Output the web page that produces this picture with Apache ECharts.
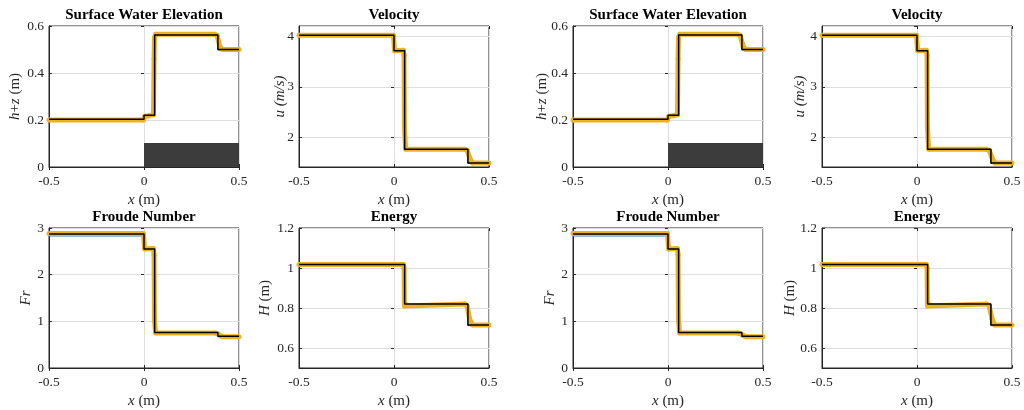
<!DOCTYPE html>
<html>
<head>
<meta charset="utf-8">
<script src="https://cdn.jsdelivr.net/npm/echarts@6/dist/echarts.min.js"></script>
<style>
  html, body { margin: 0; padding: 0; background: #fff; }
  #chart { width: 1024px; height: 410px; }
</style>
</head>
<body>
<div id="chart"></div>
<script>
// exact (reference) solution, step profile
const exactX = [-0.5, 0, 0, 0.056, 0.056, 0.389, 0.389, 0.5]
const exactElev = [0.203, 0.203, 0.22, 0.22, 0.562, 0.562, 0.5, 0.5]
const exactVel = [4.02, 4.02, 3.71, 3.71, 1.77, 1.77, 1.5, 1.5]
const exactFr = [2.87, 2.87, 2.55, 2.55, 0.76, 0.76, 0.68, 0.68]
const exactEn = [1.018, 1.018, 1.018, 1.018, 0.82, 0.82, 0.715, 0.715]

// second numerical run (blue), mostly hidden under the orange one
const blueElev = [0.198, 0.198, 0.215, 0.215, 0.56, 0.56, 0.498, 0.498]
const blueVel = [4.0, 4.0, 3.7, 3.7, 1.76, 1.76, 1.49, 1.49]
const blueFr = [2.83, 2.83, 2.54, 2.54, 0.75, 0.75, 0.67, 0.67]
const blueEn = [1.012, 1.012, 1.012, 1.012, 0.815, 0.815, 0.712, 0.712]

// numerical scheme (orange)
const schemeXLeft = [-0.5, -0.003, 0.003, 0.05, 0.053, 0.055, 0.061, 0.372, 0.385, 0.398, 0.413, 0.5]
const schemeXRight = [-0.5, -0.003, 0.003, 0.05, 0.053, 0.055, 0.061, 0.365, 0.38, 0.395, 0.41, 0.5]
const schemeElev = [0.2, 0.2, 0.215, 0.222, 0.46, 0.55, 0.565, 0.565, 0.56, 0.515, 0.5, 0.5]
const schemeVel = [4.02, 4.02, 3.71, 3.72, 3.62, 2.2, 1.77, 1.77, 1.75, 1.6, 1.5, 1.5]
const schemeFr = [2.88, 2.88, 2.55, 2.56, 2.42, 1.03, 0.75, 0.75, 0.74, 0.7, 0.67, 0.67]
const schemeEn = [1.018, 1.018, 1.018, 1.018, 1.0, 0.81, 0.82, 0.82, 0.81, 0.745, 0.715, 0.715]

// bed step
const bumpX = [0, 0.5]
const bumpZ = [0.1, 0.1]

const xTicks = { min: -0.5, max: 0.5, interval: 0.5 }

const pair = (xs, ys) => xs.map((x, i) => [x, ys[i]])

const FONT = 'Liberation Serif'
const INK = '#262626'

// panel layout
const cols = [49, 299, 573, 822]
const rows = [26, 228]
const heights = [141, 140]

const panels = [
  { title: 'Surface Water Elevation', yName: '{i|h}+{i|z} (m)', y: { min: 0, max: 0.6, interval: 0.2 },
    minLbl: true, maxLbl: true, exact: exactElev, blue: blueElev, scheme: schemeElev, bump: true },
  { title: 'Velocity', yName: '{i|u (m/s)}', y: { min: 1.42, max: 4.2, splitNumber: 3 },
    minLbl: false, maxLbl: false, exact: exactVel, blue: blueVel, scheme: schemeVel },
  { title: 'Froude Number', yName: '{i|Fr}', y: { min: 0, max: 3, interval: 1 },
    minLbl: true, maxLbl: true, exact: exactFr, blue: blueFr, scheme: schemeFr },
  { title: 'Energy', yName: '{i|H} (m)', y: { min: 0.5, max: 1.2, splitNumber: 4 },
    minLbl: false, maxLbl: true, exact: exactEn, blue: blueEn, scheme: schemeEn },
]

// 2x2 block on the left, same 2x2 block on the right
const slots = [
  { p: 0, c: 0, r: 0, sx: schemeXLeft, gap: 26 },
  { p: 1, c: 1, r: 0, sx: schemeXLeft, gap: 11 },
  { p: 2, c: 0, r: 1, sx: schemeXLeft, gap: 15 },
  { p: 3, c: 1, r: 1, sx: schemeXLeft, gap: 26 },
  { p: 0, c: 2, r: 0, sx: schemeXRight, gap: 23 },
  { p: 1, c: 3, r: 0, sx: schemeXRight, gap: 14 },
  { p: 2, c: 2, r: 1, sx: schemeXRight, gap: 15 },
  { p: 3, c: 3, r: 1, sx: schemeXRight, gap: 24 },
]

const grid = [], xAxis = [], yAxis = [], series = [], title = []

const labelStyle = { fontFamily: FONT, fontSize: 13.5, color: INK }
const nameStyle = {
  fontFamily: FONT, fontSize: 15, color: INK,
  rich: { i: { fontFamily: FONT, fontSize: 15, fontStyle: 'italic', color: INK } },
}
const tick = { show: true, inside: true, length: 3, lineStyle: { color: INK } }

slots.forEach((s, k) => {
  const p = panels[s.p]
  const left = cols[s.c], top = rows[s.r], h = heights[s.r]
  grid.push({ left, top, width: 190, height: h, show: true, borderColor: INK, borderWidth: 1, backgroundColor: '#fff' })
  title.push({
    text: p.title, left: left + 95, top: top - 18, textAlign: 'center', padding: 0,
    textStyle: { fontFamily: FONT, fontSize: 15, fontWeight: 'bold', color: '#000' },
  })

  // bottom + top x axes
  xAxis.push({
    type: 'value', gridIndex: k, ...xTicks,
    name: '{i|x} (m)', nameLocation: 'middle', nameGap: 26, nameTextStyle: nameStyle, nameMoveOverlap: false,
    axisLine: { show: true, onZero: false, lineStyle: { color: INK } },
    axisTick: tick,
    axisLabel: { ...labelStyle, margin: 7 },
    splitLine: { show: true, lineStyle: { color: '#dedede' } },
  })
  xAxis.push({
    type: 'value', gridIndex: k, position: 'top', ...xTicks,
    axisLine: { show: false }, axisTick: tick, axisLabel: { show: false }, splitLine: { show: false },
  })

  // left + right y axes
  yAxis.push({
    type: 'value', gridIndex: k, ...p.y,
    name: p.yName, nameLocation: 'middle', nameGap: s.gap, nameTextStyle: nameStyle, nameMoveOverlap: false,
    axisLine: { show: true, onZero: false, lineStyle: { color: INK } },
    axisTick: tick,
    axisLabel: { ...labelStyle, margin: 5, showMinLabel: p.minLbl, showMaxLabel: p.maxLbl },
    splitLine: { show: true, lineStyle: { color: '#dedede' } },
  })
  yAxis.push({
    type: 'value', gridIndex: k, position: 'right', ...p.y,
    axisLine: { show: false }, axisTick: tick, axisLabel: { show: false }, splitLine: { show: false },
  })

  const xi = 2 * k, yi = 2 * k
  if (p.bump) {
    series.push({
      type: 'line', xAxisIndex: xi, yAxisIndex: yi, data: pair(bumpX, bumpZ),
      showSymbol: false, lineStyle: { color: '#3c3c3c', width: 1 },
      areaStyle: { color: '#3c3c3c', opacity: 1, origin: 'start' }, z: 1,
    })
  }
  series.push({
    type: 'line', xAxisIndex: xi, yAxisIndex: yi, data: pair(exactX, p.blue),
    showSymbol: false, lineStyle: { color: '#0072BD', width: 1 }, z: 2,
  })
  series.push({
    type: 'line', xAxisIndex: xi, yAxisIndex: yi, data: pair(s.sx, p.scheme),
    symbol: 'circle', symbolSize: 5, showSymbol: true,
    itemStyle: { color: '#EDB120' }, lineStyle: { color: '#EDB120', width: 5 }, z: 3,
  })
  series.push({
    type: 'line', xAxisIndex: xi, yAxisIndex: yi, data: pair(exactX, p.exact),
    showSymbol: false, lineStyle: { color: '#000', width: 1.5 }, z: 4,
  })
})

const chart = echarts.init(document.getElementById('chart'))
chart.setOption({ animation: false, title, grid, xAxis, yAxis, series })
</script>
</body>
</html>
